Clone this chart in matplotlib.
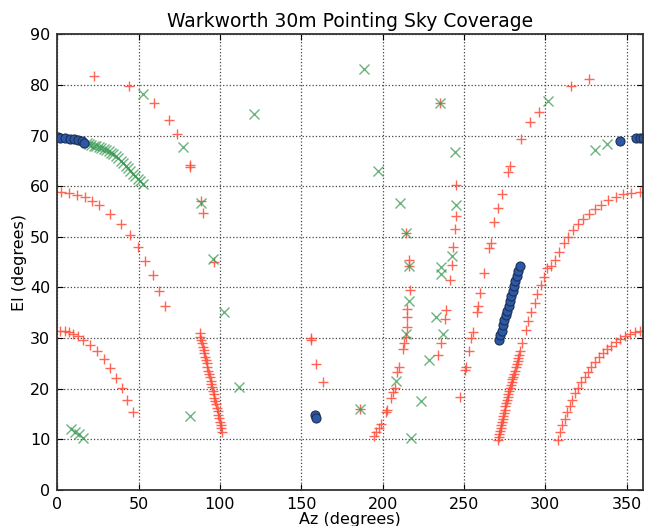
import matplotlib
matplotlib.use("Agg")
import matplotlib.pyplot as plt

# ---------------- data (Az, El in degrees) ----------------
red_az = [
    # arc top-left
    2.1, 7.2, 12.3, 16.8, 21.5, 25.8, 32.6, 38.9, 44.5, 49.4, 54.1, 58.6, 62.7, 66.0,
    # arc lower-left
    1.7, 4.7, 7.2, 9.8, 12.5, 16.0, 20.1, 24.6, 28.5, 32.4, 36.1, 39.5, 43.0, 46.3,
    # scattered upper
    22.7, 43.9, 59.2, 68.6, 73.9, 81.5, 81.8, 88.3, 89.5, 96.1,
    # dense track 88-101
    87.5, 88.0, 88.5, 88.9, 89.4, 89.9, 90.4, 90.9, 91.3, 91.8, 92.3, 92.8, 93.3, 93.7, 94.2,
    94.7, 95.2, 95.7, 96.1, 96.6, 97.1, 97.6, 98.1, 98.5, 99.0, 99.5, 100.0, 100.5, 100.9, 101.4,
    # middle scattered
    155.8, 156.0, 159.3, 163.2, 185.9,
    # track 194-217
    194.7, 196.2, 197.8, 198.8, 201.9, 202.7, 205.0, 206.4, 207.4, 208.8, 209.9, 212.5, 213.1,
    214.2, 215.0, 215.0, 215.2, 216.8, 216.5, 216.5, 214.6,
    # track 234-246
    234.0, 236.1, 238.6, 239.2, 241.3, 242.8, 243.3, 244.3, 244.9, 245.3, 235.5,
    # track 247-327
    247.6, 250.7, 251.0, 252.9, 254.6, 255.3, 257.8, 258.6, 260.1, 262.3, 265.5, 266.3, 268.5,
    270.9, 273.6, 277.0, 278.1, 285.3, 290.6, 295.9, 315.5, 326.6,
    # dense track 271-285
    270.9, 271.3, 271.7, 272.1, 272.5, 272.9, 273.3, 273.7, 274.1, 274.6, 275.0, 275.5, 275.9,
    276.4, 276.8, 277.3, 277.8, 278.3, 278.8, 279.3, 279.8, 280.3, 280.8, 281.3, 281.8, 282.4,
    282.9, 283.5, 284.1, 284.7,
    # continuation 286-358
    285.6, 287.9, 289.3, 291.4, 293.4, 294.8, 297.5, 298.9, 301.2,
    303.7, 305.7, 308.4, 311.4, 313.9, 317.0, 320.0, 323.1, 326.8, 330.3, 334.4, 338.5,
    343.2, 347.7, 352.8, 357.9,
    # lower-right arc
    307.8, 308.8, 310.4, 311.9, 313.3, 314.9, 316.6, 318.2, 320.0, 322.1, 324.1, 326.2,
    328.3, 330.3, 332.9, 335.4, 337.8, 340.5, 343.2, 346.1, 348.7, 351.8, 354.9, 357.9,
]
red_el = [
    58.8, 58.6, 58.2, 57.8, 57.0, 56.2, 54.6, 52.6, 50.3, 47.9, 45.3, 42.4, 39.3, 36.3,
    31.4, 31.4, 31.2, 30.9, 30.5, 29.7, 28.6, 27.4, 25.9, 24.1, 22.2, 20.2, 17.8, 15.4,
    81.8, 79.8, 76.5, 73.0, 70.3, 64.1, 63.7, 57.0, 54.7, 45.1,
    31.0, 30.3, 29.7, 29.0, 28.3, 27.6, 27.0, 26.3, 25.6, 25.0, 24.3, 23.6, 22.9, 22.3, 21.6,
    20.9, 20.3, 19.6, 18.9, 18.2, 17.6, 16.9, 16.2, 15.6, 14.9, 14.2, 13.5, 12.9, 12.2, 11.5,
    30.1, 29.6, 24.8, 21.4, 16.0,
    10.7, 11.5, 12.3, 13.0, 15.5, 15.8, 18.1, 19.3, 20.2, 23.3, 24.3, 27.8, 29.0,
    30.3, 32.2, 34.1, 35.7, 39.6, 44.2, 45.4, 50.7,
    26.6, 29.0, 33.7, 35.5, 41.4, 44.4, 48.0, 51.5, 54.1, 60.3, 76.5,
    18.4, 23.8, 24.2, 27.5, 30.1, 31.2, 35.1, 36.3, 38.9, 42.8, 47.7, 48.8, 53.0,
    55.7, 58.4, 62.9, 64.0, 69.4, 72.6, 74.7, 79.8, 81.1,
    9.9, 10.5, 11.1, 11.7, 12.3, 12.9, 13.5, 14.1, 14.7, 15.3, 15.9, 16.5, 17.1,
    17.7, 18.3, 18.9, 19.5, 20.1, 20.7, 21.3, 21.9, 22.4, 23.0, 23.6, 24.2, 24.8,
    25.4, 26.0, 26.6, 27.4,
    29.0, 31.6, 33.4, 35.2, 37.0, 38.7, 40.5, 42.1, 43.8,
    44.2, 45.5, 47.0, 48.7, 49.9, 51.4, 52.6, 53.6, 54.6, 55.4, 56.2, 57.2,
    57.9, 58.4, 58.7, 58.9,
    9.9, 11.5, 12.8, 14.1, 15.5, 16.6, 17.8, 19.1, 20.1, 21.4, 22.4, 23.3,
    24.3, 25.3, 26.2, 27.0, 27.8, 28.4, 29.3, 29.9, 30.4, 30.9, 31.2, 31.4,
]

green_az = [
    # arc top-left
    18.0, 19.5, 21.0, 22.5, 24.0, 25.5, 27.0, 28.5, 30.0, 31.5, 33.0, 34.5, 36.0, 37.5,
    39.0, 40.5, 42.0, 43.5, 45.0, 46.5, 48.0, 49.5, 51.0, 52.5,
    # cluster
    8.4, 10.9, 13.5, 16.0,
    # scattered
    52.8, 77.0, 88.3, 95.9, 81.3, 102.4, 111.6, 120.8, 185.9, 188.4, 197.2, 210.5, 214.6,
    216.5, 216.2, 214.2, 208.5, 217.7, 223.6, 228.7, 232.8, 237.1, 235.9, 235.9, 235.5,
    242.9, 245.3, 244.3, 301.6, 330.5, 337.8,
]
green_el = [
    68.5, 68.4, 68.2, 68.0, 67.9, 67.7, 67.5, 67.3, 67.1, 66.9, 66.6, 66.3, 65.9, 65.5,
    65.0, 64.5, 64.0, 63.5, 63.0, 62.5, 62.0, 61.5, 61.0, 60.5,
    12.0, 11.5, 11.0, 10.2,
    78.2, 67.8, 56.7, 45.6, 14.6, 35.2, 20.3, 74.2, 16.0, 83.1, 63.0, 56.6, 50.7,
    44.2, 37.3, 30.8, 21.6, 10.2, 17.5, 25.7, 34.2, 30.9, 44.1, 42.7, 76.5,
    46.3, 56.3, 66.7, 76.8, 67.1, 68.3,
]

blue_az = [
    0.3, 1.7, 4.9, 7.8, 10.3, 12.7, 15.0, 16.6,
    345.6, 355.5, 358.4, 359.8,
    158.7, 159.3,
    271.5, 272.3, 273.2, 274.0, 274.9, 275.7, 276.6, 277.4, 278.3, 279.1, 279.9, 280.8,
    281.6, 282.5, 283.3, 284.2,
]
blue_el = [
    69.7, 69.6, 69.5, 69.4, 69.3, 69.1, 68.9, 68.5,
    68.9, 69.5, 69.5, 69.6,
    14.8, 14.3,
    29.6, 30.6, 31.5, 32.5, 33.5, 34.5, 35.4, 36.4, 37.4, 38.3, 39.3, 40.3,
    41.3, 42.2, 43.2, 44.2,
]

x_ticks = [0, 50, 100, 150, 200, 250, 300, 350]
y_ticks = [0, 10, 20, 30, 40, 50, 60, 70, 80, 90]

# ---------------- figure ----------------
fig = plt.figure(figsize=(6.45, 5.26), dpi=100)
ax = fig.add_axes([0.0888, 0.0684, 0.908, 0.8664])

ax.plot(red_az, red_el, linestyle="none", marker="+", markersize=7,
        markeredgewidth=1.0, color="#ff4a36", alpha=0.85)
ax.plot(green_az, green_el, linestyle="none", marker="x", markersize=6.5,
        markeredgewidth=1.0, color="#3a9a55", alpha=0.75)
ax.plot(blue_az, blue_el, linestyle="none", marker="o", markersize=6.5,
        markerfacecolor="#2d58a6", markeredgecolor="#1b2f55", markeredgewidth=0.8)

ax.set_xlim(0, 360)
ax.set_ylim(0, 90)
ax.set_xticks(x_ticks)
ax.set_yticks(y_ticks)
ax.grid(True, color="#444444", linestyle=":", linewidth=0.9)
ax.set_axisbelow(True)
ax.tick_params(direction="in", top=True, right=True, labelsize=11.5,
               length=4, width=0.8, pad=5)
for s in ax.spines.values():
    s.set_linewidth(1.3)
    s.set_color("#333333")

ax.set_title("Warkworth 30m Pointing Sky Coverage", fontsize=13.5, pad=5)
ax.set_xlabel("Az (degrees)", fontsize=11.5, labelpad=0)
ax.set_ylabel("El (degrees)", fontsize=11.5, labelpad=2)

fig.savefig("out.png", dpi=100, facecolor="white")
